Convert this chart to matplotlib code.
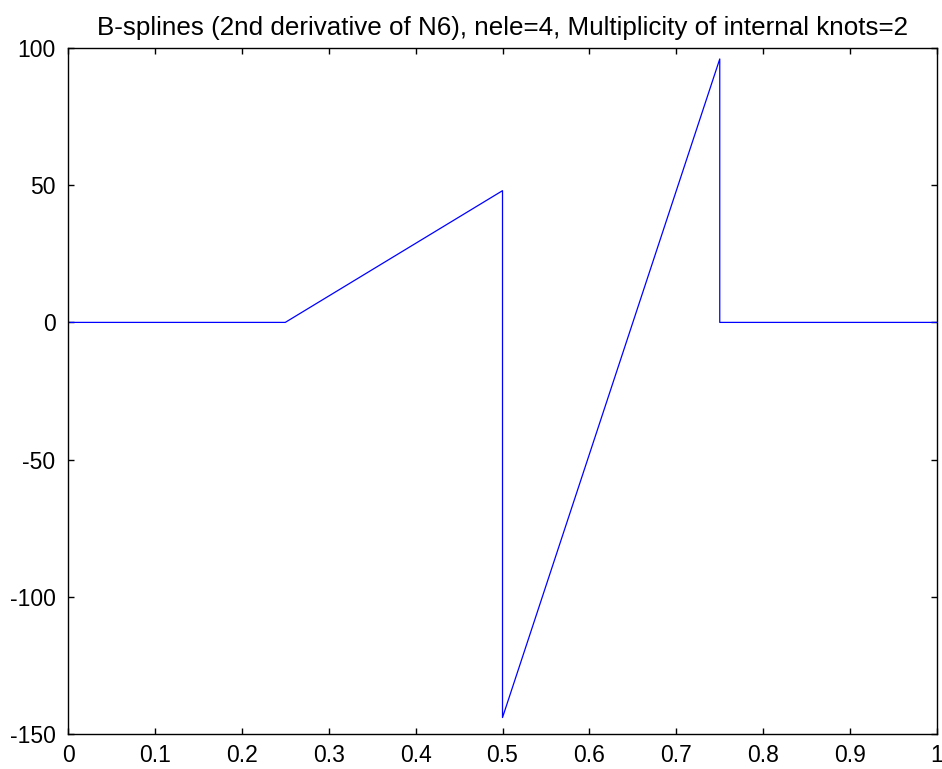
import numpy as np
import matplotlib
matplotlib.use("Agg")
import matplotlib.pyplot as plt

plt.rcParams['font.family'] = ['Liberation Sans', 'DejaVu Sans']
plt.rcParams['axes.unicode_minus'] = False

# breakpoints of the piecewise-linear 2nd derivative
x_pts = [0.0, 0.25, 0.5, 0.5, 0.75, 0.75, 1.0]
y_pts = [0.0, 0.0, 48.0, -144.0, 96.0, 0.0, 0.0]

x_ticks = [0, 0.1, 0.2, 0.3, 0.4, 0.5, 0.6, 0.7, 0.8, 0.9, 1]
x_labels = ['0', '0.1', '0.2', '0.3', '0.4', '0.5', '0.6', '0.7', '0.8', '0.9', '1']
y_ticks = [-150, -100, -50, 0, 50, 100]

fig = plt.figure(figsize=(9.42, 7.69), dpi=100)
ax = fig.add_axes([0.0722, 0.0455, 0.9225, 0.8921])

ax.plot(x_pts, y_pts, color='#0000ff', linewidth=0.9)

ax.set_xlim(0, 1)
ax.set_ylim(-150, 100)
ax.set_xticks(x_ticks)
ax.set_xticklabels(x_labels)
ax.set_yticks(y_ticks)
ax.tick_params(direction='in', length=4, width=1, top=True, right=True,
               labelsize=16.5)
ax.tick_params(axis='x', pad=7)
ax.tick_params(axis='y', pad=9)
for s in ax.spines.values():
    s.set_linewidth(1.0)

ax.set_title('B-splines (2nd derivative of N6), nele=4, Multiplicity of internal knots=2',
             fontsize=18.7, pad=9)

fig.savefig('out.png', dpi=100)
